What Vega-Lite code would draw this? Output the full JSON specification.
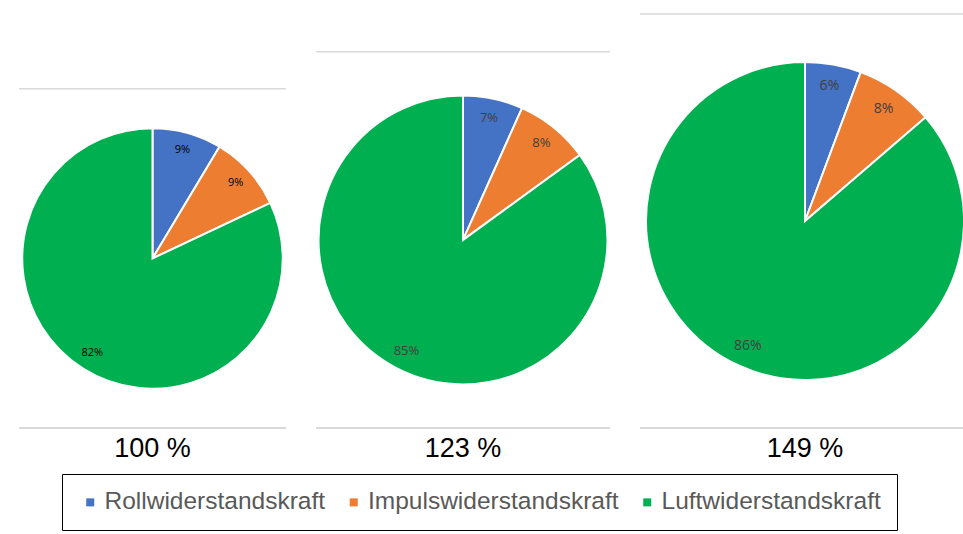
{
  "$schema": "https://vega.github.io/schema/vega-lite/v6.json",
  "padding": {"left": 18, "top": 13, "right": 0, "bottom": 0},
  "background": "white",
  "config": {"view": {"stroke": null}},
  "datasets": {
    "pies": [
      {"panel": "100 %", "size": 100, "cat": "Rollwiderstandskraft", "k": 1, "share": 0.086},
      {"panel": "100 %", "size": 100, "cat": "Impulswiderstandskraft", "k": 2, "share": 0.094},
      {"panel": "100 %", "size": 100, "cat": "Luftwiderstandskraft", "k": 3, "share": 0.82},
      {"panel": "123 %", "size": 123, "cat": "Rollwiderstandskraft", "k": 1, "share": 0.067},
      {"panel": "123 %", "size": 123, "cat": "Impulswiderstandskraft", "k": 2, "share": 0.083},
      {"panel": "123 %", "size": 123, "cat": "Luftwiderstandskraft", "k": 3, "share": 0.85},
      {"panel": "149 %", "size": 149, "cat": "Rollwiderstandskraft", "k": 1, "share": 0.057},
      {"panel": "149 %", "size": 149, "cat": "Impulswiderstandskraft", "k": 2, "share": 0.08},
      {"panel": "149 %", "size": 149, "cat": "Luftwiderstandskraft", "k": 3, "share": 0.863}
    ]
  },
  "spacing": 27,
  "resolve": {
    "scale": {"y": "independent", "radius": "independent", "theta": "independent", "color": "shared"},
    "legend": {"color": "shared"}
  },
  "hconcat": [
    {
      "width": 267, "height": 414,
      "data": {"name": "pies"},
      "transform": [{"filter": "datum.panel === '100 %'"}],
      "title": {"text": "100 %", "orient": "bottom", "fontSize": 27, "font": "Liberation Sans", "fontWeight": "normal", "color": "black", "offset": 7},
      "resolve": {"scale": {"y": "independent", "radius": "independent"}},
      "layer": [
        {"mark": {"type": "rule", "color": "#d9d9d9", "strokeWidth": 1.5},
         "encoding": {"y": {"aggregate": "max", "field": "size", "type": "quantitative", "stack": null, "scale": {"type": "sqrt", "domain": [0, 149], "range": [414, 0]}, "axis": null}}},
        {"mark": {"type": "rule", "color": "#d9d9d9", "strokeWidth": 1.5},
         "encoding": {"y": {"datum": 0, "type": "quantitative", "scale": {"type": "sqrt", "domain": [0, 149], "range": [414, 0]}, "axis": null}}},
        {"mark": {"type": "arc", "stroke": "white", "strokeWidth": 2},
         "encoding": {
           "theta": {"field": "share", "type": "quantitative", "stack": true},
           "order": {"field": "k", "type": "quantitative"},
           "radius": {"field": "size", "type": "quantitative", "stack": null, "scale": {"type": "sqrt", "domain": [0, 149], "range": [0, 159]}},
           "y": {"datum": 100, "type": "quantitative", "scale": {"type": "sqrt", "domain": [0, 149], "range": [414, 207]}, "axis": null},
           "color": {"field": "cat", "type": "nominal", "scale": {"domain": ["Rollwiderstandskraft", "Impulswiderstandskraft", "Luftwiderstandskraft"], "range": ["#4472C4", "#ED7D31", "#00B050"]}}
         }},
        {"mark": {"type": "text", "font": "Open Sans", "fontSize": 11, "color": "black"},
         "encoding": {
           "theta": {"field": "share", "type": "quantitative", "stack": true},
           "order": {"field": "k", "type": "quantitative"},
           "detail": {"field": "cat"},
           "radius": {"field": "size", "type": "quantitative", "stack": null, "scale": {"type": "sqrt", "domain": [0, 149], "range": [0, 137]}},
           "y": {"datum": 100, "type": "quantitative", "scale": {"type": "sqrt", "domain": [0, 149], "range": [414, 207]}, "axis": null},
           "text": {"field": "share", "type": "quantitative", "format": ".0%"}
         }}
      ]
    },
    {
      "width": 294, "height": 414,
      "data": {"name": "pies"},
      "transform": [{"filter": "datum.panel === '123 %'"}],
      "title": {"text": "123 %", "orient": "bottom", "fontSize": 27, "font": "Liberation Sans", "fontWeight": "normal", "color": "black", "offset": 7},
      "resolve": {"scale": {"y": "independent", "radius": "independent"}},
      "layer": [
        {"mark": {"type": "rule", "color": "#d9d9d9", "strokeWidth": 1.5},
         "encoding": {"y": {"aggregate": "max", "field": "size", "type": "quantitative", "stack": null, "scale": {"type": "sqrt", "domain": [0, 149], "range": [414, 0]}, "axis": null}}},
        {"mark": {"type": "rule", "color": "#d9d9d9", "strokeWidth": 1.5},
         "encoding": {"y": {"datum": 0, "type": "quantitative", "scale": {"type": "sqrt", "domain": [0, 149], "range": [414, 0]}, "axis": null}}},
        {"mark": {"type": "arc", "stroke": "white", "strokeWidth": 2},
         "encoding": {
           "theta": {"field": "share", "type": "quantitative", "stack": true},
           "order": {"field": "k", "type": "quantitative"},
           "radius": {"field": "size", "type": "quantitative", "stack": null, "scale": {"type": "sqrt", "domain": [0, 149], "range": [0, 159]}},
           "y": {"datum": 123, "type": "quantitative", "scale": {"type": "sqrt", "domain": [0, 149], "range": [414, 207]}, "axis": null},
           "color": {"field": "cat", "type": "nominal", "scale": {"domain": ["Rollwiderstandskraft", "Impulswiderstandskraft", "Luftwiderstandskraft"], "range": ["#4472C4", "#ED7D31", "#00B050"]}}
         }},
        {"mark": {"type": "text", "font": "Open Sans", "fontSize": 13, "color": "#404040"},
         "encoding": {
           "theta": {"field": "share", "type": "quantitative", "stack": true},
           "order": {"field": "k", "type": "quantitative"},
           "detail": {"field": "cat"},
           "radius": {"field": "size", "type": "quantitative", "stack": null, "scale": {"type": "sqrt", "domain": [0, 149], "range": [0, 137]}},
           "y": {"datum": 123, "type": "quantitative", "scale": {"type": "sqrt", "domain": [0, 149], "range": [414, 207]}, "axis": null},
           "text": {"field": "share", "type": "quantitative", "format": ".0%"}
         }}
      ]
    },
    {
      "width": 330, "height": 414,
      "data": {"name": "pies"},
      "transform": [{"filter": "datum.panel === '149 %'"}],
      "title": {"text": "149 %", "orient": "bottom", "fontSize": 27, "font": "Liberation Sans", "fontWeight": "normal", "color": "black", "offset": 7},
      "resolve": {"scale": {"y": "independent", "radius": "independent"}},
      "layer": [
        {"mark": {"type": "rule", "color": "#d9d9d9", "strokeWidth": 1.5},
         "encoding": {"y": {"aggregate": "max", "field": "size", "type": "quantitative", "stack": null, "scale": {"type": "sqrt", "domain": [0, 149], "range": [414, 0]}, "axis": null}}},
        {"mark": {"type": "rule", "color": "#d9d9d9", "strokeWidth": 1.5},
         "encoding": {"y": {"datum": 0, "type": "quantitative", "scale": {"type": "sqrt", "domain": [0, 149], "range": [414, 0]}, "axis": null}}},
        {"mark": {"type": "arc", "stroke": "white", "strokeWidth": 2},
         "encoding": {
           "theta": {"field": "share", "type": "quantitative", "stack": true},
           "order": {"field": "k", "type": "quantitative"},
           "radius": {"field": "size", "type": "quantitative", "stack": null, "scale": {"type": "sqrt", "domain": [0, 149], "range": [0, 159]}},
           "y": {"datum": 149, "type": "quantitative", "scale": {"type": "sqrt", "domain": [0, 149], "range": [414, 207]}, "axis": null},
           "color": {"field": "cat", "type": "nominal", "scale": {"domain": ["Rollwiderstandskraft", "Impulswiderstandskraft", "Luftwiderstandskraft"], "range": ["#4472C4", "#ED7D31", "#00B050"]},
             "legend": {"orient": "none", "legendX": 43, "legendY": 460, "direction": "horizontal", "title": null, "labelFontSize": 24.5, "labelFont": "Liberation Sans", "labelColor": "#595959", "symbolType": "square", "symbolSize": 64, "symbolStrokeWidth": 0, "labelOffset": 2, "columnPadding": 15.5, "padding": 16, "strokeColor": "black", "fillColor": "white", "labelLimit": 400}}
         }},
        {"mark": {"type": "text", "font": "Open Sans", "fontSize": 14, "color": "#404040"},
         "encoding": {
           "theta": {"field": "share", "type": "quantitative", "stack": true},
           "order": {"field": "k", "type": "quantitative"},
           "detail": {"field": "cat"},
           "radius": {"field": "size", "type": "quantitative", "stack": null, "scale": {"type": "sqrt", "domain": [0, 149], "range": [0, 137]}},
           "y": {"datum": 149, "type": "quantitative", "scale": {"type": "sqrt", "domain": [0, 149], "range": [414, 207]}, "axis": null},
           "text": {"field": "share", "type": "quantitative", "format": ".0%"}
         }}
      ]
    }
  ]
}
